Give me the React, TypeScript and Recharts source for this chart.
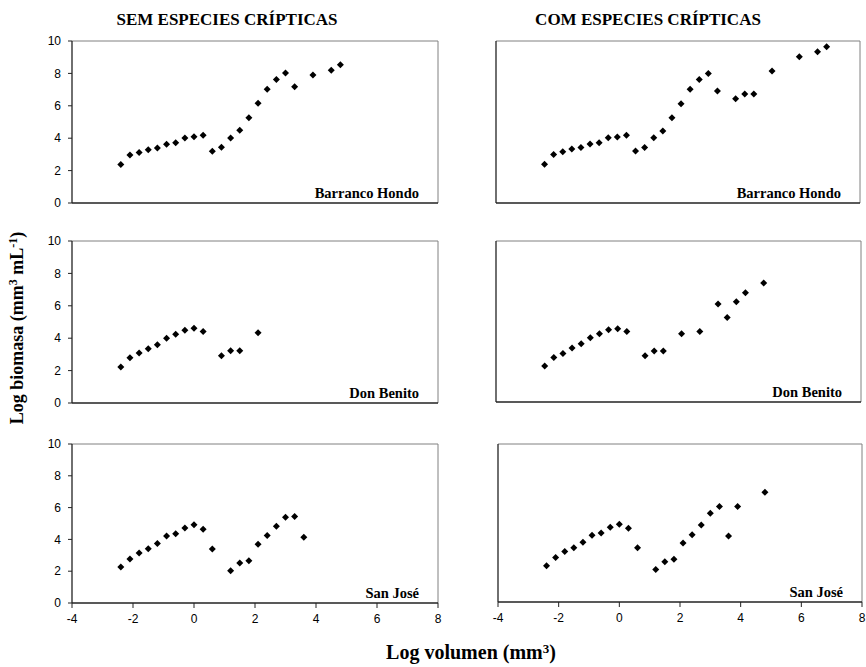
import React from "react";
import { ScatterChart, Scatter, XAxis, YAxis, ReferenceLine } from "recharts";

// Log volume classes (x) and log biomass (y)
const xBase = [-2.4, -2.1, -1.8, -1.5, -1.2, -0.9, -0.6, -0.3, 0, 0.3];

const barrancoSemX = [...xBase, 0.6, 0.9, 1.2, 1.5, 1.8, 2.1, 2.4, 2.7, 3.0, 3.3, 3.9, 4.5, 4.8];
const barrancoSemY = [2.37, 2.96, 3.11, 3.29, 3.4, 3.62, 3.72, 4.01, 4.09, 4.18, 3.19, 3.44, 4.01, 4.49, 5.27, 6.15, 7.02, 7.63, 8.02, 7.18, 7.9, 8.19, 8.54];

const barrancoComX = [...xBase, 0.6, 0.9, 1.2, 1.5, 1.8, 2.1, 2.4, 2.7, 3.0, 3.3, 3.9, 4.2, 4.5, 5.1, 6.0, 6.6, 6.9];
const barrancoComY = [2.39, 3.0, 3.17, 3.33, 3.42, 3.64, 3.72, 4.03, 4.07, 4.18, 3.21, 3.42, 4.03, 4.44, 5.27, 6.13, 7.02, 7.63, 8.0, 6.91, 6.44, 6.73, 6.73, 8.15, 9.03, 9.34, 9.65];

const donBenitoSemX = [...xBase, 0.9, 1.2, 1.5, 2.1];
const donBenitoSemY = [2.22, 2.8, 3.09, 3.35, 3.6, 3.99, 4.24, 4.49, 4.61, 4.42, 2.92, 3.23, 3.23, 4.34];

const donBenitoComX = [...xBase, 0.9, 1.2, 1.5, 2.1, 2.7, 3.3, 3.6, 3.9, 4.2, 4.8];
const donBenitoComY = [2.24, 2.76, 3.02, 3.35, 3.62, 3.99, 4.24, 4.49, 4.55, 4.38, 2.88, 3.17, 3.17, 4.24, 4.38, 6.09, 5.25, 6.23, 6.79, 7.39];

const sanJoseSemX = [...xBase, 0.6, 1.2, 1.5, 1.8, 2.1, 2.4, 2.7, 3.0, 3.3, 3.6];
const sanJoseSemY = [2.26, 2.76, 3.14, 3.41, 3.74, 4.21, 4.35, 4.71, 4.92, 4.64, 3.39, 2.03, 2.51, 2.66, 3.7, 4.25, 4.83, 5.4, 5.44, 4.14];

const sanJoseComX = [...xBase, 0.6, 1.2, 1.5, 1.8, 2.1, 2.4, 2.7, 3.0, 3.3, 3.6, 3.9, 4.8];
const sanJoseComY = [2.3, 2.81, 3.19, 3.44, 3.78, 4.22, 4.37, 4.73, 4.92, 4.66, 3.44, 2.05, 2.55, 2.7, 3.73, 4.26, 4.87, 5.61, 6.05, 4.18, 6.05, 6.94];

const xTicks = [-4, -2, 0, 2, 4, 6, 8];
const yTicks = [0, 2, 4, 6, 8, 10];

const zip = (xs: number[], ys: number[]) => xs.map((x, i) => ({ x, y: ys[i] }));

const SERIF = "'Liberation Serif', 'Times New Roman', serif";
const SANS = "'Liberation Sans', Arial, sans-serif";
const AXIS = "#222";

const Y_AXIS_W = 40;
const X_AXIS_H = 30;
const M_TOP = 10;
const M_RIGHT = 10;

const supStyle = { fontSize: 12, lineHeight: 0, verticalAlign: "0.5em" };

function Diamond(props: any) {
  const { cx, cy } = props;
  const r = 3.5;
  return <path d={`M${cx},${cy - r}L${cx + r},${cy}L${cx},${cy + r}L${cx - r},${cy}Z`} fill="#000" />;
}

interface PanelProps {
  left: number;
  top: number;
  w: number;
  h: number;
  data: { x: number; y: number }[];
  showY: boolean;
  showX: boolean;
  label: string;
}

function Panel({ left, top, w, h, data, showY, showX, label }: PanelProps) {
  const tickStyle = { fontSize: 12, fill: "#000", fontFamily: SANS };
  return (
    <>
      <div style={{ position: "absolute", left: left - Y_AXIS_W, top: top - M_TOP }}>
        <ScatterChart
          width={w + Y_AXIS_W + M_RIGHT}
          height={h + M_TOP + X_AXIS_H}
          margin={{ top: M_TOP, right: M_RIGHT, bottom: 0, left: 0 }}
        >
          <XAxis
            type="number"
            dataKey="x"
            domain={[-4, 8]}
            ticks={xTicks}
            height={X_AXIS_H}
            tick={showX ? tickStyle : false}
            tickSize={5}
            tickMargin={6}
            axisLine={{ stroke: AXIS, strokeWidth: 1.3 }}
            tickLine={{ stroke: AXIS }}
          />
          <YAxis
            type="number"
            dataKey="y"
            domain={[0, 10]}
            ticks={yTicks}
            width={Y_AXIS_W}
            tick={showY ? tickStyle : false}
            tickSize={4}
            tickMargin={7}
            axisLine={{ stroke: AXIS, strokeWidth: 1.3 }}
            tickLine={{ stroke: AXIS }}
          />
          <ReferenceLine y={10} stroke="#808080" />
          <ReferenceLine x={8} stroke="#808080" />
          <Scatter data={data} shape={Diamond} isAnimationActive={false} />
        </ScatterChart>
      </div>
      <div
        style={{
          position: "absolute",
          right: 866 - (left + w - 19),
          top: top + h - 10,
          transform: "translateY(-50%)",
          fontFamily: SERIF,
          fontWeight: "bold",
          fontSize: 14.5,
          lineHeight: 1,
          whiteSpace: "nowrap",
        }}
      >
        {label}
      </div>
    </>
  );
}

export default function App() {
  return (
    <div
      style={{
        position: "absolute",
        left: 0,
        top: 0,
        width: 866,
        height: 667,
        background: "#fff",
        overflow: "hidden",
      }}
    >
      {/* Column titles */}
      <div style={{ position: "absolute", left: 27, width: 400, top: 10, textAlign: "center", fontFamily: SERIF, fontWeight: "bold", fontSize: 17, lineHeight: "20px" }}>
        SEM ESPECIES CRÍPTICAS
      </div>
      <div style={{ position: "absolute", left: 448, width: 400, top: 10, textAlign: "center", fontFamily: SERIF, fontWeight: "bold", fontSize: 17, lineHeight: "20px" }}>
        COM ESPECIES CRÍPTICAS
      </div>

      <Panel left={72} top={41} w={366} h={162} data={zip(barrancoSemX, barrancoSemY)} showY showX={false} label="Barranco Hondo" />
      <Panel left={496} top={41} w={364} h={162} data={zip(barrancoComX, barrancoComY)} showY={false} showX={false} label="Barranco Hondo" />
      <Panel left={72} top={241} w={366} h={162} data={zip(donBenitoSemX, donBenitoSemY)} showY showX={false} label="Don Benito" />
      <Panel left={496} top={241} w={365} h={161} data={zip(donBenitoComX, donBenitoComY)} showY={false} showX={false} label="Don Benito" />
      <Panel left={72} top={444} w={366} h={159} data={zip(sanJoseSemX, sanJoseSemY)} showY showX label="San José" />
      <Panel left={498} top={444} w={364} h={158} data={zip(sanJoseComX, sanJoseComY)} showY={false} showX label="San José" />

      {/* Axis titles */}
      <div
        style={{
          position: "absolute",
          left: 17 - 150,
          width: 300,
          top: 328 - 12,
          height: 24,
          lineHeight: "24px",
          textAlign: "center",
          transform: "rotate(-90deg)",
          fontFamily: SERIF,
          fontWeight: "bold",
          fontSize: 18,
          whiteSpace: "nowrap",
        }}
      >
        Log biomasa (mm<sup style={supStyle}>3</sup> mL<sup style={supStyle}>-1</sup>)
      </div>
      <div
        style={{
          position: "absolute",
          left: 471 - 150,
          width: 300,
          top: 640,
          height: 24,
          lineHeight: "24px",
          textAlign: "center",
          fontFamily: SERIF,
          fontWeight: "bold",
          fontSize: 20,
          whiteSpace: "nowrap",
        }}
      >
        Log volumen (mm<sup style={{ ...supStyle, fontSize: 13 }}>3</sup>)
      </div>
    </div>
  );
}
